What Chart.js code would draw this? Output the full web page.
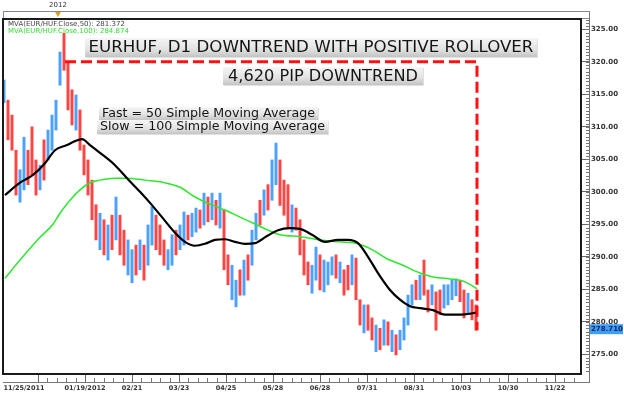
<!DOCTYPE html>
<html>
<head>
<meta charset="utf-8">
<script src="https://cdn.jsdelivr.net/npm/chart.js@4"></script>
<style>
  html, body { margin: 0; padding: 0; background: #fff; }
</style>
</head>
<body>
<canvas id="chart" width="624" height="399"></canvas>
<script>
// EURHUF daily bars, one bar every second trading day (high / low / up-day flag)
const barHigh = [
  317.2, 314.1, 311.8, 306.4, 303.4, 308.4, 306.4, 310.0, 304.9, 304.1,
  308.0, 309.5, 311.8, 314.1, 321.5, 324.4, 319.8, 315.7, 314.9, 312.6,
  307.2, 304.9, 301.8, 298.0, 296.7, 295.7, 294.9, 296.4, 299.2, 296.4,
  294.1, 292.6, 291.1, 291.8, 292.6, 291.8, 294.9, 297.7, 296.4, 294.9,
  292.6, 291.1, 293.4, 294.1, 294.9, 296.9, 296.4, 296.7, 297.5, 297.2,
  299.8, 299.2, 299.8, 298.7, 299.8, 297.2, 290.3, 288.7, 286.4, 288.0,
  289.5, 290.3, 294.1, 296.7, 298.7, 300.3, 301.1, 304.9, 307.5, 304.9,
  301.8, 301.1, 298.0, 297.5, 295.7, 292.6, 289.2, 288.7, 291.5, 290.3,
  289.5, 289.2, 290.0, 290.3, 289.2, 288.0, 288.7, 290.3, 289.8, 283.4,
  282.6, 282.6, 280.6, 279.5, 279.0, 280.3, 280.0, 278.7, 278.0, 278.7,
  280.6, 284.1, 285.7, 286.4, 287.2, 289.5, 284.9, 285.7, 284.6, 284.9,
  285.7, 285.7, 286.4, 286.6, 286.3, 284.9, 284.4, 283.4, 282.6
];
const barLow = [
  313.7, 308.0, 306.4, 299.5, 298.4, 300.3, 301.1, 302.6, 299.5, 300.3,
  301.8, 304.9, 306.4, 309.5, 316.4, 318.7, 312.6, 310.3, 309.5, 306.4,
  302.6, 299.5, 295.7, 292.6, 291.1, 290.3, 289.5, 291.1, 292.6, 290.3,
  288.7, 287.2, 286.0, 287.2, 288.0, 286.4, 288.7, 291.8, 291.1, 290.3,
  288.7, 288.0, 288.7, 290.3, 291.1, 291.8, 292.6, 293.1, 293.8, 294.4,
  294.9, 295.4, 295.7, 294.9, 294.4, 288.0, 285.7, 283.4, 282.3, 284.1,
  284.1, 286.4, 288.7, 292.6, 294.9, 296.4, 297.2, 298.7, 301.1, 297.9,
  296.4, 294.4, 293.8, 294.1, 290.3, 287.2, 285.7, 284.4, 286.4, 284.9,
  284.6, 285.7, 287.2, 286.7, 286.0, 284.1, 284.9, 285.7, 283.4, 279.5,
  278.3, 278.7, 277.2, 275.4, 275.7, 276.4, 276.4, 275.4, 274.9, 275.7,
  277.2, 279.5, 282.6, 283.4, 283.4, 284.1, 281.5, 282.6, 278.7, 281.1,
  282.1, 282.6, 283.4, 284.0, 283.1, 280.6, 281.1, 280.3, 278.7
];
const barUp = [
  1, 0, 0, 0, 1, 1, 0, 0, 0, 1,
  0, 1, 1, 1, 1, 0, 0, 0, 1, 0,
  0, 0, 0, 0, 1, 0, 1, 0, 1, 0,
  0, 1, 1, 0, 1, 0, 1, 1, 0, 0,
  0, 1, 1, 0, 1, 1, 0, 1, 1, 0,
  1, 0, 1, 0, 1, 0, 0, 1, 1, 0,
  1, 0, 1, 1, 0, 1, 0, 1, 1, 0,
  0, 0, 1, 0, 0, 0, 0, 1, 1, 0,
  1, 1, 1, 0, 1, 0, 0, 1, 0, 0,
  1, 0, 0, 1, 0, 1, 0, 1, 0, 1,
  1, 1, 1, 0, 1, 0, 0, 1, 0, 0,
  1, 1, 1, 1, 0, 0, 1, 0, 0
];

// 50-period moving average (black), sampled along the bar index axis
const ma50X = [0.25, 4, 7.25, 10.25, 12.75, 15.75, 17.75, 19.5, 21.5, 24, 27.75, 30.75, 34, 36.5, 39.5,
  42.75, 45.25, 47.75, 50.25, 52.75, 55.25, 57.75, 60.25, 62.75, 65.75, 68.5, 71.5, 74, 77, 80.25,
  83.5, 86, 88.5, 91, 93.5, 96.5, 99, 101.5, 104, 107.25, 110.25, 114, 118.25];
const ma50Y = [299.5, 301.4, 302.6, 304.4, 306.4, 307.2, 307.8, 308.1, 307.2, 306.0, 304.1, 302.1, 300.0, 298.3, 296.1,
  293.7, 292.3, 291.7, 292.0, 292.6, 292.7, 292.3, 292.0, 292.1, 293.2, 294.1, 294.4, 294.3, 293.4, 292.3,
  292.6, 292.6, 292.1, 290.0, 287.5, 284.9, 283.4, 282.4, 282.1, 281.8, 281.1, 281.1, 281.4];

// 100-period moving average (green)
const ma100X = [0.25, 4, 9, 12.25, 14, 16.5, 19, 21.5, 24, 27.75, 30.75, 35.25, 39.5, 44, 47.75,
  51.5, 55.25, 59, 62.25, 66, 69, 74, 79, 84, 88.5, 92, 95.75, 99, 104, 107.25,
  111.5, 114, 115.75, 118.25];
const ma100Y = [286.7, 289.5, 293.0, 295.0, 296.7, 298.7, 300.3, 301.4, 301.8, 302.1, 302.1, 301.8, 301.5, 300.7, 299.2,
  298.1, 297.2, 296.1, 295.2, 294.1, 293.4, 293.1, 292.6, 292.3, 292.0, 291.1, 289.7, 288.9, 287.5, 286.9,
  286.6, 286.4, 286.0, 285.1];

// red dashed "4,620 pip" bracket
const trendX = [15.25, 118.25, 118.25];
const trendY = [320.0, 320.0, 278.7];

const yTicks = [275, 280, 285, 290, 295, 300, 305, 310, 315, 320, 325];
const xTickPos = [5, 8.5, 20.25, 32, 43.75, 55.5, 67.25, 79, 90.75, 102.5, 114.25, 126, 137.75];
const xTickLabels = ['11/25/2011', '', '01/19/2012', '02/21', '03/23', '04/25', '05/28', '06/28',
  '07/31', '08/31', '10/03', '10/30', '11/22'];
const yearMarkX = [13.5];
const yearMarkLabel = ['2012'];
const lastPrice = 278.71;
const ma50Last = 281.372;
const ma100Last = 284.874;

const FONT = '"DejaVu Sans", Verdana, sans-serif';

function fitSize(ctx, text, width, weight) {
  ctx.font = weight + ' 20px ' + FONT;
  return 20 * width / ctx.measureText(text).width;
}

function labelBox(ctx, text, x0, y0, x1, y1, textW, cy) {
  const g = ctx.createLinearGradient(0, y0, 0, y1);
  g.addColorStop(0, '#f6f6f6');
  g.addColorStop(0.6, '#e2e2e2');
  g.addColorStop(1, '#c4c4c4');
  ctx.fillStyle = 'rgba(0,0,0,0.12)';
  ctx.fillRect(x0 + 1, y0 + 1, x1 - x0, y1 - y0);
  ctx.fillStyle = g;
  ctx.fillRect(x0, y0, x1 - x0, y1 - y0);
  const size = fitSize(ctx, text, textW, 'normal');
  ctx.font = size.toFixed(2) + 'px ' + FONT;
  ctx.fillStyle = '#151515';
  ctx.textAlign = 'center';
  ctx.textBaseline = 'middle';
  ctx.fillText(text, (x0 + x1) / 2, cy);
}

const decor = {
  id: 'decor',
  afterDraw(chart) {
    const ctx = chart.ctx;
    const a = chart.chartArea;
    const xs = chart.scales.x;
    const ys = chart.scales.y;
    ctx.save();

    // timeline strip on top
    ctx.fillStyle = '#fff';
    ctx.fillRect(a.left, 11, 589 - a.left, 7);
    ctx.strokeStyle = '#888';
    ctx.lineWidth = 1;
    ctx.strokeRect(a.left + 0.5, 11.5, 589 - a.left, 7);
    yearMarkX.forEach((v, k) => {
      const px = xs.getPixelForValue(v);
      ctx.fillStyle = '#333';
      ctx.font = '7px ' + FONT;
      ctx.textAlign = 'center';
      ctx.textBaseline = 'middle';
      ctx.fillText(yearMarkLabel[k], px, 5);
      ctx.fillStyle = '#d9a21b';
      ctx.beginPath();
      ctx.moveTo(px - 3, 12);
      ctx.lineTo(px + 3, 12);
      ctx.lineTo(px, 17);
      ctx.closePath();
      ctx.fill();
    });

    // plot frame
    ctx.strokeStyle = '#1a1a1a';
    ctx.lineWidth = 2;
    ctx.strokeRect(a.left, a.top, a.right - a.left, a.bottom - a.top);

    // right axis line, bottom axis line and minor ticks
    ctx.strokeStyle = '#777';
    ctx.lineWidth = 1;
    ctx.beginPath();
    ctx.moveTo(589.5, 12);
    ctx.lineTo(589.5, 383);
    ctx.moveTo(a.left, 382.5);
    ctx.lineTo(589.5, 382.5);
    for (let v = 272.5; v <= 326.5; v += 0.5) {
      const py = Math.round(ys.getPixelForValue(v)) + 0.5;
      ctx.moveTo(586, py);
      ctx.lineTo(589, py);
    }
    for (let k = 1; k < xTickPos.length; k++) {
      const step = 11.75 / 5;
      for (let j = 1; j < 5; j++) {
        const px = Math.round(xs.getPixelForValue(xTickPos[k] + j * step)) + 0.5;
        if (px < a.right) {
          ctx.moveTo(px, 382);
          ctx.lineTo(px, 378);
        }
      }
    }
    ctx.stroke();

    // moving average legend
    ctx.textAlign = 'left';
    ctx.textBaseline = 'middle';
    const t1 = 'MVA(EUR/HUF.Close,50): ' + ma50Last.toFixed(3);
    const t2 = 'MVA(EUR/HUF.Close,100): ' + ma100Last.toFixed(3);
    ctx.font = fitSize(ctx, t1, 117, 'normal').toFixed(2) + 'px ' + FONT;
    ctx.fillStyle = '#444';
    ctx.fillText(t1, 8, 24);
    ctx.font = fitSize(ctx, t2, 121, 'normal').toFixed(2) + 'px ' + FONT;
    ctx.fillStyle = '#33e033';
    ctx.fillText(t2, 8, 31);

    // annotation boxes
    labelBox(ctx, 'EURHUF, D1 DOWNTREND WITH POSITIVE ROLLOVER', 85, 38, 537, 57, 445, 48);
    labelBox(ctx, '4,620 PIP DOWNTREND', 223, 67, 423, 85, 190, 77);
    labelBox(ctx, 'Fast = 50 Simple Moving Average', 99, 107, 318, 120, 213, 114);
    labelBox(ctx, 'Slow = 100 Simple Moving Average', 97, 120, 328, 134, 225, 127);

    // last price tag
    const py = ys.getPixelForValue(lastPrice);
    ctx.fillStyle = '#3f9df5';
    ctx.fillRect(590, py - 6, 33, 10);
    ctx.fillStyle = '#0a2a66';
    ctx.font = 'bold 7px ' + FONT;
    ctx.textAlign = 'left';
    ctx.fillText(lastPrice.toFixed(3), 591, py - 1);
    ctx.restore();
  }
};

new Chart(document.getElementById('chart'), {
  data: {
    datasets: [
      {
        type: 'line',
        label: 'MA100',
        data: ma100X.map((x, k) => ({ x: x, y: ma100Y[k] })),
        borderColor: '#2ee62e',
        borderWidth: 1.5,
        pointRadius: 0,
        cubicInterpolationMode: 'monotone',
        order: 2
      },
      {
        type: 'line',
        label: 'MA50',
        data: ma50X.map((x, k) => ({ x: x, y: ma50Y[k] })),
        borderColor: '#000',
        borderWidth: 2.2,
        pointRadius: 0,
        cubicInterpolationMode: 'monotone',
        order: 1
      },
      {
        type: 'bar',
        label: 'EURHUF',
        data: barHigh.map((h, i) => ({ x: i, y: [barLow[i], h] })),
        backgroundColor: barUp.map(u => u ? 'rgba(45,145,255,0.85)' : 'rgba(255,35,35,0.85)'),
        barThickness: 2.3,
        grouped: false,
        order: 3
      },
      {
        type: 'line',
        label: 'trend',
        data: trendX.map((x, k) => ({ x: x, y: trendY[k] })),
        borderColor: '#ff1010',
        borderWidth: 3,
        borderDash: [11, 5],
        pointRadius: 0,
        tension: 0,
        order: 0
      }
    ]
  },
  options: {
    responsive: false,
    animation: false,
    layout: { padding: { left: 3, top: 19, right: 0, bottom: 0 } },
    plugins: { legend: { display: false }, tooltip: { enabled: false } },
    scales: {
      x: {
        type: 'linear',
        offset: false,
        min: -0.25,
        max: 144.25,
        afterBuildTicks: s => { s.ticks = xTickPos.map(v => ({ value: v })); },
        afterFit: s => { s.height = 25; },
        ticks: {
          autoSkip: false,
          maxRotation: 0,
          padding: 2,
          color: '#333',
          font: { family: FONT, size: 6.5, weight: 'bold' },
          callback: (v, idx) => xTickLabels[idx]
        },
        grid: {
          offset: false,
          drawOnChartArea: false,
          tickLength: 8,
          tickColor: c => c.index === 0 ? 'rgba(0,0,0,0)' : '#666'
        },
        border: { display: false }
      },
      y: {
        type: 'linear',
        position: 'right',
        min: 271.97,
        max: 326.59,
        afterBuildTicks: s => { s.ticks = yTicks.map(v => ({ value: v })); },
        afterFit: s => { s.width = 43; },
        ticks: {
          padding: 2,
          color: '#333',
          font: { family: FONT, size: 7, weight: 'bold' },
          callback: v => v.toFixed(2)
        },
        grid: {
          drawOnChartArea: false,
          tickLength: 8,
          tickColor: '#666'
        },
        border: { display: false }
      }
    }
  },
  plugins: [decor]
});
</script>
</body>
</html>
